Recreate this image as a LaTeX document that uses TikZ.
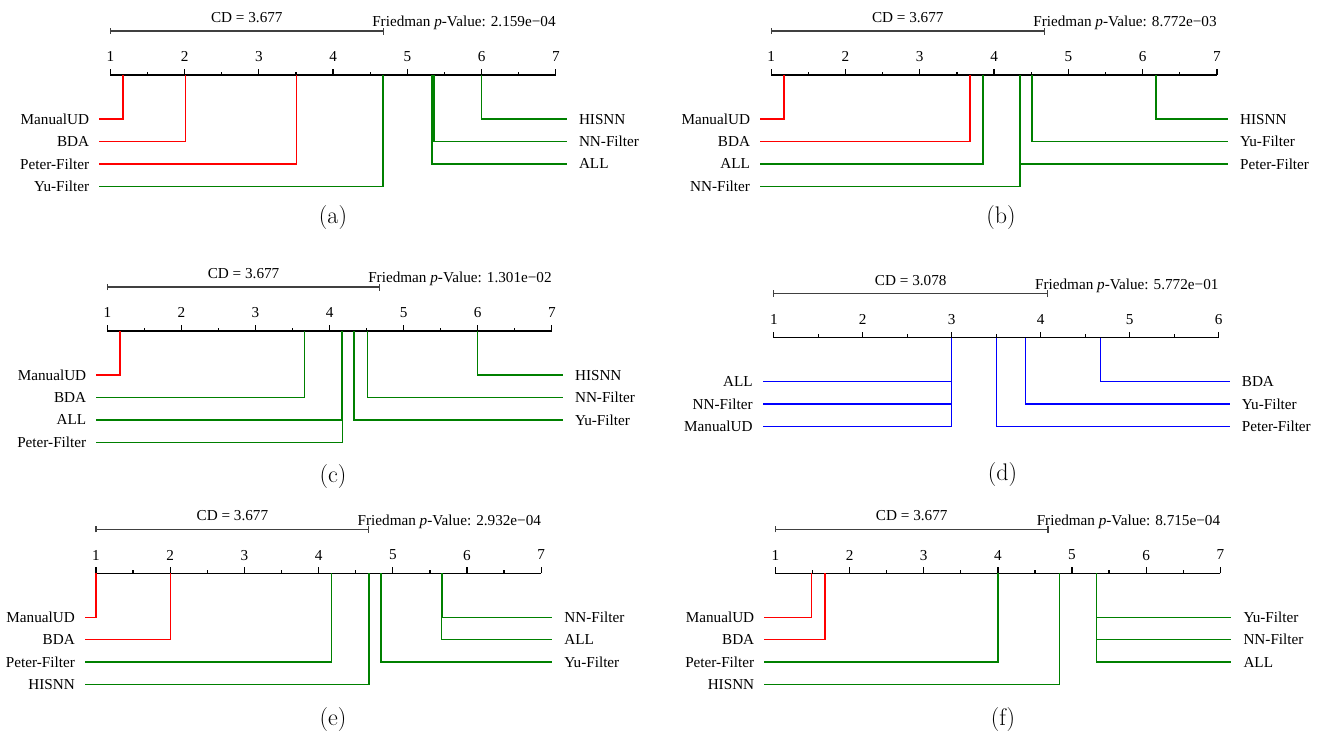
\documentclass[tikz,border=0pt]{standalone}
\usepackage{fontspec}
\newfontfamily\tnr{Liberation Serif}
\definecolor{cdred}{RGB}{255,0,0}
\definecolor{cdgreen}{RGB}{0,128,0}
\definecolor{cdblue}{RGB}{0,0,255}
\tikzset{
  axisline/.style={draw=black,line width=1.3pt},
  cdbar/.style={draw=black!75,line width=1.3pt},
  cdline/.style={line width=1.4pt},
  lab/.style={font=\tnr\fontsize{15.2}{18}\selectfont,inner sep=0pt,text depth=0pt},
  captext/.style={font=\fontsize{24}{28}\selectfont,inner sep=0pt},
}
\newcommand\cdstart[7]{%
  \begin{scope}[shift={(#2,#4)},x=#3pt]
  \def\pfx{#1}%
  \pgfmathsetmacro\nlast{#5-1}%
  \pgfmathsetmacro\gapu{11/#3}%
  \draw[axisline] (0,0) -- (\nlast,0);
  \foreach \i in {1,...,#5}{\draw[axisline] (\i-1,0) -- (\i-1,-6);
     \node[lab] (#1-n\i) at (\i-1,-18.3) {\i};}
  \foreach \i in {2,...,#5}{\draw[axisline] (\i-1.5,0) -- (\i-1.5,-3.3);}
  \coordinate (#1-cd0) at (0,-44);
  \coordinate (#1-cd1) at (#6,-44);
  \draw[cdbar] (#1-cd0) -- (#1-cd1);
  \draw[cdbar] (0,-41) -- (0,-47.5);
  \draw[cdbar] (#6,-40.5) -- (#6,-47.5);
  \node[lab] (#1-cdt) at (#6/2,-57.5) {CD = #6};
  \node[lab,anchor=east] (#1-fr) at ([xshift=0pt]\nlast,-53.5) {Friedman \textit{p}-Value: #7};
}
\newcommand\lrow[4]{%
  \pgfmathsetmacro\ry{44+(#2-1)*22.4}%
  \coordinate (\pfx-la#2) at (#1-1,0);
  \coordinate (\pfx-lb#2) at (-\gapu,\ry);
  \node[lab,anchor=east] (\pfx-L#2) at ([xshift=-10pt]\pfx-lb#2) {#3};
  \draw[cdline,draw=#4] (\pfx-la#2) |- (\pfx-lb#2);
}
\newcommand\rrow[4]{%
  \pgfmathsetmacro\ry{44+(#2-1)*22.4}%
  \coordinate (\pfx-ra#2) at (#1-1,0);
  \coordinate (\pfx-rb#2) at (\nlast+\gapu,\ry);
  \node[lab,anchor=west] (\pfx-R#2) at ([xshift=12pt]\pfx-rb#2) {#3};
  \draw[cdline,draw=#4] (\pfx-ra#2) |- (\pfx-rb#2);
}
\begin{document}
\begin{tikzpicture}[x=1pt,y=-1pt]
\useasboundingbox (0,0) rectangle (1325,736);
% (a)
\cdstart{a}{110.3}{74.25}{75}{7}{3.677}{2.159e−04}
\lrow{1.171}{1}{ManualUD}{cdred}
\lrow{2.01}{2}{BDA}{cdred}
\lrow{3.51}{3}{Peter-Filter}{cdred}
\lrow{4.675}{4}{Yu-Filter}{cdgreen}
\rrow{6.0}{1}{HISNN}{cdgreen}
\rrow{5.36}{2}{NN-Filter}{cdgreen}
\rrow{5.33}{3}{ALL}{cdgreen}
\end{scope}
% (b)
\cdstart{b}{771.2}{74.28}{75}{7}{3.677}{8.772e−03}
\lrow{1.17}{1}{ManualUD}{cdred}
\lrow{3.675}{2}{BDA}{cdred}
\lrow{3.85}{3}{ALL}{cdgreen}
\lrow{4.35}{4}{NN-Filter}{cdgreen}
\rrow{6.18}{1}{HISNN}{cdgreen}
\rrow{4.51}{2}{Yu-Filter}{cdgreen}
\rrow{4.34}{3}{Peter-Filter}{cdgreen}
\end{scope}
% (c)
\cdstart{c}{107.4}{74.07}{331}{7}{3.677}{1.301e−02}
\lrow{1.17}{1}{ManualUD}{cdred}
\lrow{3.66}{2}{BDA}{cdgreen}
\lrow{4.16}{3}{ALL}{cdgreen}
\lrow{4.17}{4}{Peter-Filter}{cdgreen}
\rrow{6.0}{1}{HISNN}{cdgreen}
\rrow{4.51}{2}{NN-Filter}{cdgreen}
\rrow{4.33}{3}{Yu-Filter}{cdgreen}
\end{scope}
% (d)
\cdstart{d}{773.8}{88.97}{337.7}{6}{3.078}{5.772e−01}
\lrow{3.0}{1}{ALL}{cdblue}
\lrow{3.0}{2}{NN-Filter}{cdblue}
\lrow{3.0}{3}{ManualUD}{cdblue}
\rrow{4.67}{1}{BDA}{cdblue}
\rrow{3.83}{2}{Yu-Filter}{cdblue}
\rrow{3.5}{3}{Peter-Filter}{cdblue}
\end{scope}
% (e)
\cdstart{e}{96}{74.2}{573.3}{7}{3.677}{2.932e−04}
\lrow{1.0}{1}{ManualUD}{cdred}
\lrow{2.0}{2}{BDA}{cdred}
\lrow{4.17}{3}{Peter-Filter}{cdgreen}
\lrow{4.68}{4}{HISNN}{cdgreen}
\rrow{5.67}{1}{NN-Filter}{cdgreen}
\rrow{5.66}{2}{ALL}{cdgreen}
\rrow{4.84}{3}{Yu-Filter}{cdgreen}
\end{scope}
% (f)
\cdstart{f}{775.4}{74.15}{573.3}{7}{3.677}{8.715e−04}
\lrow{1.49}{1}{ManualUD}{cdred}
\lrow{1.67}{2}{BDA}{cdred}
\lrow{4.0}{3}{Peter-Filter}{cdgreen}
\lrow{4.83}{4}{HISNN}{cdgreen}
\rrow{5.33}{1}{Yu-Filter}{cdgreen}
\rrow{5.33}{2}{NN-Filter}{cdgreen}
\rrow{5.33}{3}{ALL}{cdgreen}
\end{scope}
% captions
\node[captext] (capa) at (333,218) {(a)};
\node[captext] (capb) at (1001,218) {(b)};
\node[captext] (capc) at (333,476.5) {(c)};
\node[captext] (capd) at (1002.5,475) {(d)};
\node[captext] (cape) at (333,720) {(e)};
\node[captext] (capf) at (1003,720) {(f)};
\end{tikzpicture}
\end{document}
